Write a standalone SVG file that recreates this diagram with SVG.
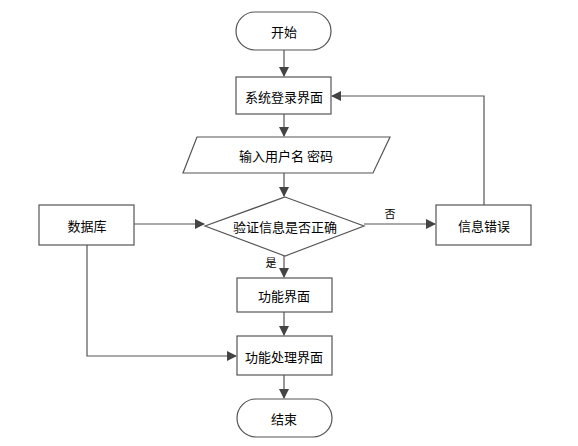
<svg xmlns="http://www.w3.org/2000/svg" width="578" height="446" viewBox="0 0 578 446">
<defs>
<marker id="arr" markerWidth="10" markerHeight="10" refX="9" refY="5" orient="auto" markerUnits="userSpaceOnUse">
<path d="M0,0 L10,5 L0,10 Z" fill="#444"/>
</marker>
</defs>
<style>
.shape{fill:#fff;stroke:#555;stroke-width:1.2}
.t{font-family:"Noto Sans CJK SC","Liberation Sans",sans-serif;font-size:13px;fill:#000;text-anchor:middle;dominant-baseline:central}
.s{font-family:"Noto Sans CJK SC","Liberation Sans",sans-serif;font-size:11px;fill:#000;text-anchor:middle;dominant-baseline:central}
.c{fill:none;stroke:#555;stroke-width:1.2;marker-end:url(#arr)}
</style>
<rect width="578" height="446" fill="#fff"/>
<g id="connectors">
<path class="c" d="M284,50 V76"/>
<path class="c" d="M284,114 V136"/>
<path class="c" d="M284,173 V196"/>
<path class="c" d="M134,224 H204"/>
<path class="c" d="M364,224 H435"/>
<path class="c" d="M484,205 V96 H332"/>
<path class="c" d="M284,256 V277"/>
<path class="c" d="M284,312 V335"/>
<path class="c" d="M87,245 V356 H236"/>
<path class="c" d="M284,375 V398"/>
<text class="s" x="390" y="213">否</text>
<text class="s" x="271" y="262">是</text>
</g>
<g id="start"><rect class="shape" x="236" y="12" width="95" height="38" rx="19"/><text class="t" x="284" y="31">开始</text></g>
<g id="login"><rect class="shape" x="236" y="77" width="95" height="37"/><text class="t" x="284" y="96">系统登录界面</text></g>
<g id="input"><polygon class="shape" points="197,137 390,137 373,173 183,173"/><text class="t" x="286" y="155">输入用户名 密码</text></g>
<g id="verify"><polygon class="shape" points="285,197 364,226 285,256 205,226"/><text class="t" x="285" y="226">验证信息是否正确</text></g>
<g id="db"><rect class="shape" x="39" y="205" width="95" height="40"/><text class="t" x="87" y="225">数据库</text></g>
<g id="error"><rect class="shape" x="436" y="205" width="95" height="40"/><text class="t" x="484" y="225">信息错误</text></g>
<g id="func"><rect class="shape" x="237" y="278" width="95" height="34"/><text class="t" x="284" y="295">功能界面</text></g>
<g id="proc"><rect class="shape" x="237" y="336" width="95" height="39"/><text class="t" x="284" y="356">功能处理界面</text></g>
<g id="end"><rect class="shape" x="237" y="399" width="95" height="38" rx="19"/><text class="t" x="284" y="418">结束</text></g>
</svg>
